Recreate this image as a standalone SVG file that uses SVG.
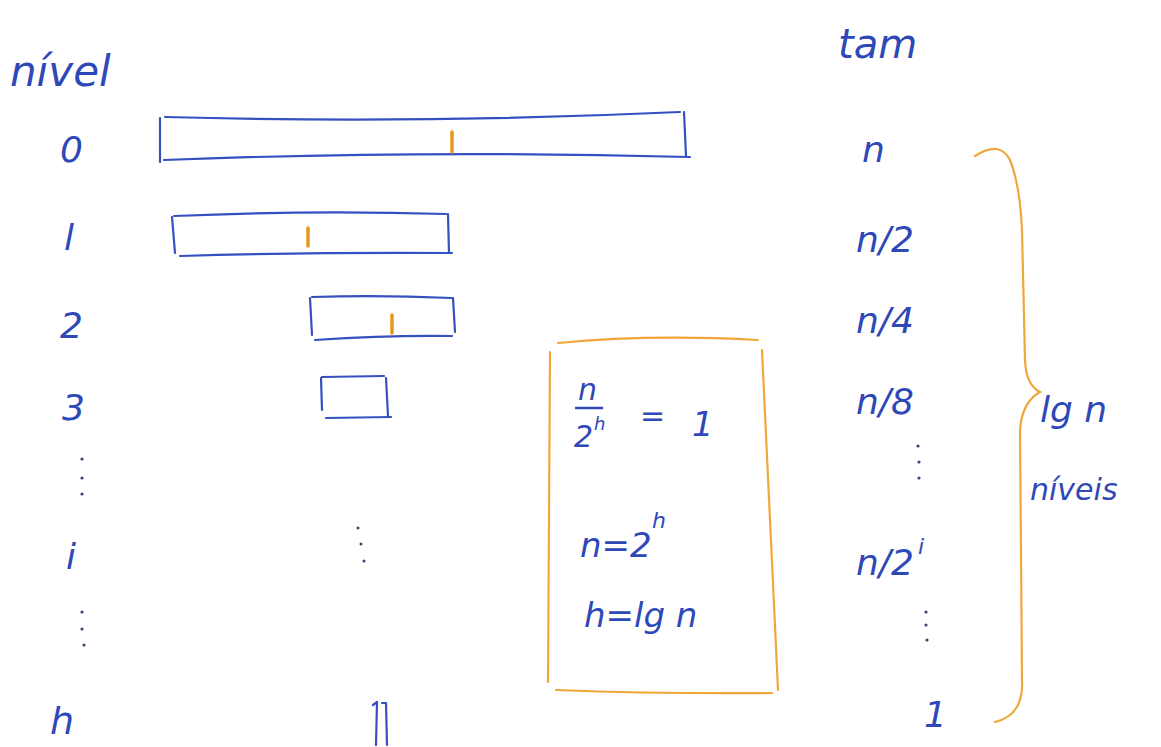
<svg xmlns="http://www.w3.org/2000/svg" width="1161" height="747" viewBox="0 0 1161 747">
<style>
.t{font-family:"DejaVu Sans","Liberation Sans",sans-serif;font-style:italic;fill:#2e48b8;}
.b{fill:none;stroke:#3550c0;stroke-width:2.2;stroke-linecap:round;stroke-linejoin:round;}
.o{fill:none;stroke:#f0a73a;stroke-width:2.2;stroke-linecap:round;}
.tick{stroke:#e8981a;stroke-width:3.5;stroke-linecap:round;}
.dot{fill:#3a4670;}
</style>
<rect width="1161" height="747" fill="#ffffff"/>

<g id="header-nivel"><text class="t" x="10" y="86" font-size="42">nível</text></g>
<g id="header-tam"><text class="t" x="838" y="58" font-size="40">tam</text></g>

<g id="levels">
<text class="t" x="60" y="162" font-size="36">0</text>
<text class="t" x="64" y="250" font-size="36">l</text>
<text class="t" x="60" y="338" font-size="36">2</text>
<text class="t" x="62" y="420" font-size="36">3</text>
<circle class="dot" cx="82" cy="459" r="1.6"/><circle class="dot" cx="82" cy="478" r="1.6"/><circle class="dot" cx="82" cy="494" r="1.6"/>
<text class="t" x="66" y="569" font-size="36">i</text>
<circle class="dot" cx="82" cy="612" r="1.6"/><circle class="dot" cx="82" cy="629" r="1.6"/><circle class="dot" cx="84" cy="645" r="1.6"/>
<text class="t" x="50" y="734" font-size="38">h</text>
</g>

<g id="bar-0">
<path class="b" d="M160 118 L160 162 M165 117 Q420 124 680 112 M684 112 L686 156 M164 160 Q420 150 690 157"/>
<line class="tick" x1="452" y1="132" x2="452" y2="152"/>
</g>
<g id="bar-1">
<path class="b" d="M172 217 L175 253 M174 216 Q310 210 446 214 M448 214 L449 253 M180 256 Q320 252 452 253"/>
<line class="tick" x1="308" y1="228" x2="308" y2="246"/>
</g>
<g id="bar-2">
<path class="b" d="M310 298 L312 335 M312 297 Q380 295 452 298 M453 298 L455 332 M315 340 Q390 335 452 336"/>
<line class="tick" x1="392" y1="315" x2="392" y2="333"/>
</g>
<g id="bar-3">
<path class="b" d="M321 378 L322 410 M322 377 L384 376 M386 378 L388 416 M326 418 L391 417"/>
</g>
<g id="bar-dots">
<circle class="dot" cx="358" cy="528" r="1.5"/><circle class="dot" cx="361" cy="544" r="1.5"/><circle class="dot" cx="364" cy="561" r="1.5"/>
</g>
<g id="bar-h">
<path class="b" d="M373 705 L377 702 L376 745 M382 703 L386 703 L387 745"/>
</g>

<g id="sizes">
<text class="t" x="862" y="162" font-size="36">n</text>
<text class="t" x="856" y="252" font-size="36">n/2</text>
<text class="t" x="856" y="333" font-size="36">n/4</text>
<text class="t" x="856" y="414" font-size="36">n/8</text>
<circle class="dot" cx="918" cy="446" r="1.6"/><circle class="dot" cx="919" cy="462" r="1.6"/><circle class="dot" cx="919" cy="478" r="1.6"/>
<text class="t" x="856" y="575" font-size="36">n/2</text>
<text class="t" x="918" y="554" font-size="22">i</text>
<circle class="dot" cx="926" cy="612" r="1.6"/><circle class="dot" cx="926" cy="625" r="1.6"/><circle class="dot" cx="927" cy="640" r="1.6"/>
<text class="t" x="924" y="727" font-size="36">1</text>
</g>

<g id="box-formula">
<path class="o" d="M558 343 Q650 334 758 340 M550 352 L548 682 M762 350 L778 690 M556 690 Q660 694 772 693"/>
<text class="t" x="578" y="400" font-size="30">n</text>
<line x1="575" y1="408" x2="603" y2="408" stroke="#2e48b8" stroke-width="2.5"/>
<text class="t" x="574" y="447" font-size="30">2</text>
<text class="t" x="594" y="430" font-size="18">h</text>
<text class="t" x="640" y="426" font-size="30">=</text>
<text class="t" x="692" y="436" font-size="34">1</text>
<text class="t" x="580" y="557" font-size="34">n=2</text>
<text class="t" x="652" y="528" font-size="22">h</text>
<text class="t" x="584" y="627" font-size="34">h=lg n</text>
</g>

<g id="connectors">
<path class="o" d="M975 156 Q1000 140 1010 160 Q1020 185 1022 230 L1025 360 Q1026 385 1040 392 Q1022 402 1020 430 L1022 680 Q1024 715 995 722"/>
</g>

<g id="label-lgn">
<text class="t" x="1040" y="422" font-size="36">lg n</text>
<text class="t" x="1030" y="500" font-size="30">níveis</text>
</g>
</svg>
